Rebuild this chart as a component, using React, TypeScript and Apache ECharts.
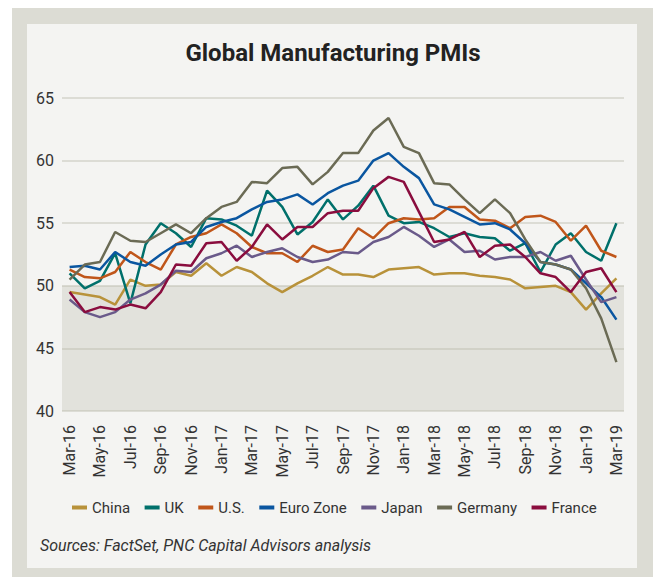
import React, { useEffect, useRef } from "react";
import * as echarts from "echarts";

const months = [
  "Mar-16","Apr-16","May-16","Jun-16","Jul-16","Aug-16","Sep-16","Oct-16","Nov-16","Dec-16",
  "Jan-17","Feb-17","Mar-17","Apr-17","May-17","Jun-17","Jul-17","Aug-17","Sep-17","Oct-17","Nov-17","Dec-17",
  "Jan-18","Feb-18","Mar-18","Apr-18","May-18","Jun-18","Jul-18","Aug-18","Sep-18","Oct-18","Nov-18","Dec-18",
  "Jan-19","Feb-19","Mar-19",
];

const china = [49.5,49.3,49.1,48.5,50.5,50.0,50.1,51.1,50.8,51.8,50.8,51.5,51.1,50.2,49.5,50.2,50.8,51.5,50.9,50.9,50.7,51.3,51.4,51.5,50.9,51.0,51.0,50.8,50.7,50.5,49.8,49.9,50.0,49.5,48.1,49.4,50.6];
const uk = [51.0,49.8,50.4,52.6,48.6,53.3,55.0,54.2,53.1,55.4,55.3,54.8,54.0,57.6,56.3,54.1,55.1,56.9,55.3,56.4,58.0,55.6,55.0,55.1,54.6,53.9,54.2,53.9,53.8,52.8,53.4,51.1,53.3,54.2,52.7,52.0,55.0];
const us = [51.3,50.7,50.6,51.1,52.7,51.9,51.3,53.3,53.9,54.2,54.9,54.2,53.1,52.6,52.6,51.9,53.2,52.7,52.9,54.6,53.8,55.0,55.4,55.3,55.4,56.3,56.3,55.3,55.2,54.6,55.5,55.6,55.1,53.6,54.8,52.8,52.3];
const euroZone = [51.5,51.6,51.3,52.7,51.9,51.6,52.5,53.3,53.5,54.7,55.1,55.4,56.1,56.7,56.9,57.3,56.5,57.4,58.0,58.4,60.0,60.6,59.5,58.6,56.5,56.1,55.5,54.9,55.0,54.5,53.4,51.9,51.7,51.3,50.2,49.1,47.3];
const japan = [48.9,47.9,47.5,47.9,48.9,49.4,50.1,51.2,51.1,52.2,52.6,53.2,52.3,52.7,53.0,52.3,51.9,52.1,52.7,52.6,53.5,53.9,54.7,54.0,53.1,53.7,52.7,52.8,52.1,52.3,52.3,52.7,52.0,52.4,50.5,48.7,49.1];
const germany = [50.5,51.7,51.9,54.3,53.6,53.5,54.2,54.9,54.2,55.4,56.3,56.7,58.3,58.2,59.4,59.5,58.1,59.1,60.6,60.6,62.4,63.4,61.1,60.6,58.2,58.1,56.9,55.8,56.9,55.8,53.7,51.9,51.7,51.3,49.8,47.4,43.9];
const france = [49.5,47.9,48.3,48.1,48.5,48.2,49.5,51.7,51.6,53.4,53.5,52.0,53.1,54.9,53.7,54.7,54.7,55.8,56.0,56.0,57.8,58.7,58.3,55.9,53.5,53.7,54.3,52.3,53.2,53.3,52.3,51.0,50.7,49.5,51.1,51.4,49.5];

const seriesNames = ["China", "UK", "U.S.", "Euro Zone", "Japan", "Germany", "France"];
const seriesData = [china, uk, us, euroZone, japan, germany, france];
const seriesColors = ["#b8923a", "#00706b", "#c0561a", "#0a56a0", "#6a5a8a", "#6b6b55", "#8a0d3e"];

const yMin = 40;
const yMax = 65;
const yStep = 5;
const shadeFrom = 40;
const shadeTo = 50;

const titleText = "Global Manufacturing PMIs";
const sourceText = "Sources: FactSet, PNC Capital Advisors analysis";

export default function App() {
  const ref = useRef<HTMLDivElement>(null);
  useEffect(() => {
    if (!ref.current) return;
    const chart = echarts.init(ref.current, null, { renderer: "svg" });
    const series: any[] = seriesNames.map((name, i) => ({
      name,
      type: "line",
      data: seriesData[i],
      symbol: "none",
      lineStyle: { width: 2.5, color: seriesColors[i] },
      itemStyle: { color: seriesColors[i] },
      z: 3,
    }));
    series[0].markArea = {
      silent: true,
      itemStyle: { color: "rgba(185,185,170,0.3)" },
      data: [[{ yAxis: shadeFrom }, { yAxis: shadeTo }]],
    };
    chart.setOption({
      animation: false,
      backgroundColor: "#ffffff",
      graphic: [
        { type: "rect", z: -10, silent: true, shape: { x: 12, y: 8, width: 641, height: 569 }, style: { fill: "#dcdcd4" } },
        { type: "rect", z: -9, silent: true, shape: { x: 27, y: 24, width: 610, height: 544 }, style: { fill: "#f4f4f2" } },
        {
          type: "text",
          x: 333,
          y: 53,
          style: {
            text: titleText,
            fill: "#222222",
            font: "bold 24px Roboto",
            textAlign: "center",
            textVerticalAlign: "middle",
          },
        },
        {
          type: "text",
          x: 40,
          y: 545,
          style: {
            text: sourceText,
            fill: "#333333",
            font: "italic 16px Roboto",
            textAlign: "left",
            textVerticalAlign: "middle",
          },
        },
      ],
      grid: { left: 62, right: 29, top: 98, bottom: 577 - 411, containLabel: false },
      legend: {
        left: 67,
        top: 495,
        icon: "rect",
        itemWidth: 15,
        itemHeight: 4,
        itemGap: 14.5,
        textStyle: { fontFamily: "Roboto", fontSize: 15, color: "#333333" },
        data: seriesNames,
      },
      xAxis: {
        type: "category",
        data: months,
        boundaryGap: true,
        axisLine: { show: false },
        axisTick: { show: false },
        axisLabel: {
          interval: 1,
          rotate: 90,
          margin: 14,
          fontFamily: "Roboto",
          fontSize: 16,
          color: "#333333",
        },
      },
      yAxis: {
        type: "value",
        min: yMin,
        max: yMax,
        interval: yStep,
        axisLine: { show: false },
        axisTick: { show: false },
        axisLabel: { margin: 8, fontFamily: "Roboto", fontSize: 16, color: "#333333" },
        splitLine: { lineStyle: { color: "#dcdcd5", width: 2 } },
      },
      series,
    });
    return () => chart.dispose();
  }, []);
  return (
    <div
      ref={ref}
      style={{ position: "fixed", left: 0, top: 0, width: 653, height: 577 }}
    />
  );
}
